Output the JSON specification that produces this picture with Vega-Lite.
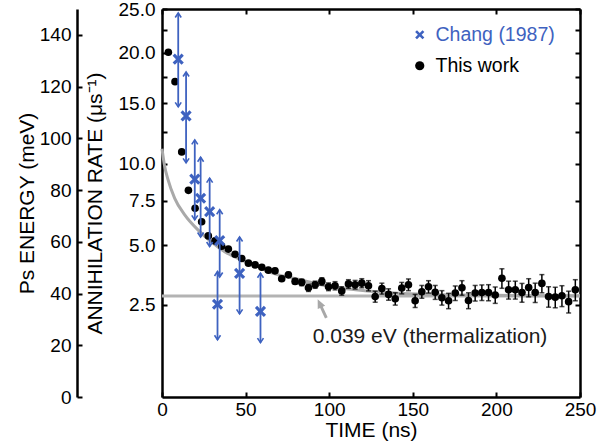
{
  "$schema": "https://vega.github.io/schema/vega-lite/v6.json",
  "width": 418,
  "height": 388,
  "autosize": {"type": "none"},
  "padding": {"left": 162, "top": 9, "right": 27, "bottom": 51},
  "background": "white",
  "config": {
    "font": "Liberation Sans",
    "view": {"stroke": null},
    "axis": {
      "domainColor": "black", "domainWidth": 2.5, "tickColor": "black", "tickWidth": 2,
      "labelColor": "black", "titleColor": "black", "titleFontWeight": "normal",
      "labelFontSize": 19, "titleFontSize": 21, "grid": false, "labelFlush": false, "labelOverlap": false
    }
  },
  "datasets": {
    "curve": [
      {"t": 0, "E": 96}, {"t": 1.5, "E": 89.5}, {"t": 3.6, "E": 84}, {"t": 7.6, "E": 76.8},
      {"t": 13.6, "E": 70.4}, {"t": 21.5, "E": 64.6}, {"t": 29.5, "E": 60}, {"t": 37.5, "E": 56.2},
      {"t": 47.4, "E": 53}, {"t": 57.4, "E": 50.4}, {"t": 63.2, "E": 48.6}, {"t": 81.5, "E": 45.5},
      {"t": 101.5, "E": 42.6}, {"t": 121.4, "E": 41.1}, {"t": 141.3, "E": 40.1}, {"t": 157.3, "E": 39.7},
      {"t": 200, "E": 39.3}, {"t": 250, "E": 39.15}
    ],
    "notes": [
      {"kind": "line", "E": 39},
      {"kind": "arrow", "t": 95.7, "E": 34.2},
      {"kind": "text", "t": 160.3, "E": 20.9, "label": "0.039 eV (thermalization)"}
    ],
    "thiswork": [
      {"t": 3.8, "r": 20.06, "e": 0.05, "series": "This work"},
      {"t": 7.8, "r": 17.04, "e": 0.05, "series": "This work"},
      {"t": 11.8, "r": 10.9, "e": 0.05, "series": "This work"},
      {"t": 15.8, "r": 8.17, "e": 0.05, "series": "This work"},
      {"t": 19.8, "r": 7.04, "e": 0.05, "series": "This work"},
      {"t": 23.7, "r": 6.25, "e": 0.05, "series": "This work"},
      {"t": 27.7, "r": 5.48, "e": 0.05, "series": "This work"},
      {"t": 31.7, "r": 5.22, "e": 0.05, "series": "This work"},
      {"t": 35.7, "r": 4.95, "e": 0.05, "series": "This work"},
      {"t": 39.7, "r": 4.81, "e": 0.05, "series": "This work"},
      {"t": 43.7, "r": 4.56, "e": 0.05, "series": "This work"},
      {"t": 47.7, "r": 4.36, "e": 0.05, "series": "This work"},
      {"t": 51.7, "r": 4.15, "e": 0.08, "series": "This work"},
      {"t": 55.7, "r": 4.07, "e": 0.08, "series": "This work"},
      {"t": 59.7, "r": 3.97, "e": 0.09, "series": "This work"},
      {"t": 63.6, "r": 3.84, "e": 0.09, "series": "This work"},
      {"t": 67.6, "r": 3.81, "e": 0.1, "series": "This work"},
      {"t": 71.6, "r": 3.48, "e": 0.1, "series": "This work"},
      {"t": 75.6, "r": 3.64, "e": 0.1, "series": "This work"},
      {"t": 79.6, "r": 3.37, "e": 0.11, "series": "This work"},
      {"t": 83.6, "r": 3.33, "e": 0.13, "series": "This work"},
      {"t": 87.6, "r": 3.12, "e": 0.14, "series": "This work"},
      {"t": 91.6, "r": 3.24, "e": 0.14, "series": "This work"},
      {"t": 95.6, "r": 3.37, "e": 0.15, "series": "This work"},
      {"t": 99.6, "r": 3.16, "e": 0.15, "series": "This work"},
      {"t": 103.5, "r": 3.2, "e": 0.16, "series": "This work"},
      {"t": 107.5, "r": 3.0, "e": 0.16, "series": "This work"},
      {"t": 111.5, "r": 3.27, "e": 0.17, "series": "This work"},
      {"t": 115.5, "r": 3.24, "e": 0.17, "series": "This work"},
      {"t": 119.5, "r": 3.3, "e": 0.18, "series": "This work"},
      {"t": 123.5, "r": 3.2, "e": 0.2, "series": "This work"},
      {"t": 127.5, "r": 2.79, "e": 0.2, "series": "This work"},
      {"t": 131.5, "r": 3.09, "e": 0.21, "series": "This work"},
      {"t": 135.5, "r": 2.87, "e": 0.21, "series": "This work"},
      {"t": 139.5, "r": 2.71, "e": 0.22, "series": "This work"},
      {"t": 143.4, "r": 3.11, "e": 0.22, "series": "This work"},
      {"t": 147.4, "r": 3.24, "e": 0.23, "series": "This work"},
      {"t": 151.4, "r": 2.64, "e": 0.23, "series": "This work"},
      {"t": 155.4, "r": 2.97, "e": 0.24, "series": "This work"},
      {"t": 159.4, "r": 3.16, "e": 0.24, "series": "This work"},
      {"t": 163.4, "r": 2.95, "e": 0.26, "series": "This work"},
      {"t": 167.4, "r": 2.75, "e": 0.26, "series": "This work"},
      {"t": 171.4, "r": 2.64, "e": 0.27, "series": "This work"},
      {"t": 175.4, "r": 2.92, "e": 0.27, "series": "This work"},
      {"t": 179.4, "r": 3.12, "e": 0.28, "series": "This work"},
      {"t": 183.3, "r": 2.65, "e": 0.28, "series": "This work"},
      {"t": 187.3, "r": 2.92, "e": 0.29, "series": "This work"},
      {"t": 191.3, "r": 2.94, "e": 0.29, "series": "This work"},
      {"t": 195.3, "r": 2.94, "e": 0.3, "series": "This work"},
      {"t": 199.3, "r": 2.85, "e": 0.3, "series": "This work"},
      {"t": 203.3, "r": 3.5, "e": 0.4, "series": "This work"},
      {"t": 207.3, "r": 3.04, "e": 0.34, "series": "This work"},
      {"t": 211.3, "r": 3.04, "e": 0.34, "series": "This work"},
      {"t": 215.3, "r": 2.94, "e": 0.35, "series": "This work"},
      {"t": 219.3, "r": 3.13, "e": 0.35, "series": "This work"},
      {"t": 223.2, "r": 2.94, "e": 0.36, "series": "This work"},
      {"t": 227.2, "r": 3.29, "e": 0.36, "series": "This work"},
      {"t": 231.2, "r": 2.79, "e": 0.37, "series": "This work"},
      {"t": 235.2, "r": 2.77, "e": 0.37, "series": "This work"},
      {"t": 239.2, "r": 2.82, "e": 0.38, "series": "This work"},
      {"t": 243.2, "r": 2.61, "e": 0.38, "series": "This work"},
      {"t": 247.2, "r": 3.04, "e": 0.4, "series": "This work"}
    ],
    "chang": [
      {"t": 9.7, "r": 19.32, "lo": 14.66, "hi": 24.52, "series": "Chang (1987)"},
      {"t": 14.4, "r": 13.86, "lo": 10.08, "hi": 18.0, "series": "Chang (1987)"},
      {"t": 19.6, "r": 8.92, "lo": 6.36, "hi": 11.85, "series": "Chang (1987)"},
      {"t": 23.1, "r": 7.66, "lo": 5.42, "hi": 10.5, "series": "Chang (1987)"},
      {"t": 28.5, "r": 6.84, "lo": 4.94, "hi": 8.99, "series": "Chang (1987)"},
      {"t": 34.5, "r": 5.24, "lo": 3.55, "hi": 6.95, "series": "Chang (1987)"},
      {"t": 33.2, "r": 2.52, "lo": 1.46, "hi": 3.78, "series": "Chang (1987)"},
      {"t": 46.4, "r": 3.7, "lo": 2.2, "hi": 5.42, "series": "Chang (1987)"},
      {"t": 58.9, "r": 2.28, "lo": 1.39, "hi": 3.71, "series": "Chang (1987)"}
    ]
  },
  "resolve": {"scale": {"x": "independent", "y": "independent"}},
  "layer": [
    {
      "layer": [
        {
          "data": {"name": "notes"},
          "transform": [{"filter": "datum.kind == 'line'"}],
          "mark": {"type": "rule", "color": "#b3b3b3", "strokeWidth": 3},
          "encoding": {
            "y": {"field": "E", "type": "quantitative", "scale": {"domain": [0, 150], "nice": false, "zero": true},
              "axis": {"orient": "left", "offset": 85, "values": [0, 20, 40, 60, 80, 100, 120, 140], "format": "d",
                "tickSize": -5, "labelPadding": 11, "title": "Ps ENERGY (meV)", "titleFontSize": 21, "titlePadding": 2}}
          }
        },
        {
          "data": {"name": "curve"},
          "mark": {"type": "line", "color": "#a9a9a9", "strokeWidth": 3, "interpolate": "monotone"},
          "encoding": {
            "x": {"field": "t", "type": "quantitative", "scale": {"domain": [0, 250], "nice": false, "zero": false},
              "axis": {"orient": "bottom", "values": [0, 50, 100, 150, 200, 250], "format": "d", "tickSize": -5,
                "labelPadding": 8, "title": "TIME (ns)", "titlePadding": 0}},
            "y": {"field": "E", "type": "quantitative"}
          }
        },
        {
          "data": {"name": "notes"},
          "transform": [{"filter": "datum.kind == 'arrow'"}],
          "mark": {"type": "point", "shape": "arrow", "filled": true, "color": "#a8a8a8", "opacity": 1, "size": 420, "angle": -25},
          "encoding": {
            "x": {"field": "t", "type": "quantitative"},
            "y": {"field": "E", "type": "quantitative"}
          }
        },
        {
          "data": {"name": "notes"},
          "transform": [{"filter": "datum.kind == 'text'"}],
          "mark": {"type": "text", "fontSize": 21, "align": "center", "baseline": "alphabetic", "color": "#1a1a1a"},
          "encoding": {
            "x": {"field": "t", "type": "quantitative"},
            "y": {"field": "E", "type": "quantitative"},
            "text": {"field": "label"}
          }
        }
      ]
    },
    {
      "data": {"name": "thiswork"},
      "layer": [
        {
          "mark": {"type": "errorbar", "color": "black", "thickness": 1.5, "ticks": {"size": 5, "thickness": 1.5}},
          "encoding": {
            "x": {"field": "t", "type": "quantitative", "scale": {"domain": [0, 250], "nice": false, "zero": false},
              "axis": {"orient": "top", "values": [0, 50, 100, 150, 200, 250], "labels": false, "tickSize": -5, "title": null}},
            "y": {"field": "r", "type": "quantitative",
              "scale": {"type": "pow", "exponent": 0.45, "domain": [0.39, 25], "nice": false, "zero": false},
              "axis": {"orient": "left", "values": [2.5, 5, 7.5, 10, 12.5, 15, 17.5, 20, 22.5, 25],
                "labelExpr": "(datum.value == 12.5 || datum.value == 17.5 || datum.value == 22.5) ? '' : format(datum.value, '.1f')",
                "tickSize": -5, "labelPadding": 12, "title": "ANNIHILATION RATE (μs⁻¹)", "titleFontSize": 21, "titlePadding": 13}},
            "yError": {"field": "e"}
          }
        },
        {
          "mark": {"type": "point", "filled": true, "size": 58, "opacity": 1},
          "encoding": {
            "x": {"field": "t", "type": "quantitative"},
            "y": {"field": "r", "type": "quantitative"},
            "color": {"field": "series", "type": "nominal",
              "scale": {"domain": ["Chang (1987)", "This work"], "range": ["#3e62c0", "black"]},
              "legend": {"orient": "none", "legendX": 248, "legendY": 16, "title": null, "labelFontSize": 19.5,
                "symbolSize": 85, "rowPadding": 10, "labelOffset": 6, "symbolStrokeWidth": 0,
                "labelColor": {"expr": "datum.label == 'Chang (1987)' ? '#3e62c0' : 'black'"}}},
            "shape": {"field": "series", "type": "nominal",
              "scale": {"domain": ["Chang (1987)", "This work"],
                "range": ["M-1,-0.6L-0.6,-1L0,-0.4L0.6,-1L1,-0.6L0.4,0L1,0.6L0.6,1L0,0.4L-0.6,1L-1,0.6L-0.4,0Z", "circle"]}}
          }
        }
      ]
    },
    {
      "data": {"name": "chang"},
      "layer": [
        {
          "mark": {"type": "rule", "color": "#3e62c0", "strokeWidth": 1.8},
          "encoding": {
            "x": {"field": "t", "type": "quantitative", "scale": {"domain": [0, 250], "nice": false, "zero": false}, "axis": null},
            "y": {"field": "lo", "type": "quantitative",
              "scale": {"type": "pow", "exponent": 0.45, "domain": [0.39, 25], "nice": false, "zero": false},
              "axis": {"orient": "right", "values": [2.5, 5, 7.5, 10, 12.5, 15, 17.5, 20, 22.5, 25], "labels": false, "tickSize": -5, "title": null}},
            "y2": {"field": "hi"}
          }
        },
        {
          "mark": {"type": "point", "shape": "M-1,1.5L0,0L1,1.5", "filled": false, "color": "#3e62c0", "strokeWidth": 1.6, "size": 36, "opacity": 1},
          "encoding": {
            "x": {"field": "t", "type": "quantitative"},
            "y": {"field": "hi", "type": "quantitative"}
          }
        },
        {
          "mark": {"type": "point", "shape": "M-1,-1.5L0,0L1,-1.5", "filled": false, "color": "#3e62c0", "strokeWidth": 1.6, "size": 36, "opacity": 1},
          "encoding": {
            "x": {"field": "t", "type": "quantitative"},
            "y": {"field": "lo", "type": "quantitative"}
          }
        },
        {
          "mark": {"type": "point", "filled": true, "size": 125, "opacity": 1},
          "encoding": {
            "x": {"field": "t", "type": "quantitative"},
            "y": {"field": "r", "type": "quantitative"},
            "color": {"field": "series", "type": "nominal",
              "scale": {"domain": ["Chang (1987)", "This work"], "range": ["#3e62c0", "black"]}},
            "shape": {"field": "series", "type": "nominal",
              "scale": {"domain": ["Chang (1987)", "This work"],
                "range": ["M-1,-0.6L-0.6,-1L0,-0.4L0.6,-1L1,-0.6L0.4,0L1,0.6L0.6,1L0,0.4L-0.6,1L-1,0.6L-0.4,0Z", "circle"]}}
          }
        }
      ]
    }
  ]
}
